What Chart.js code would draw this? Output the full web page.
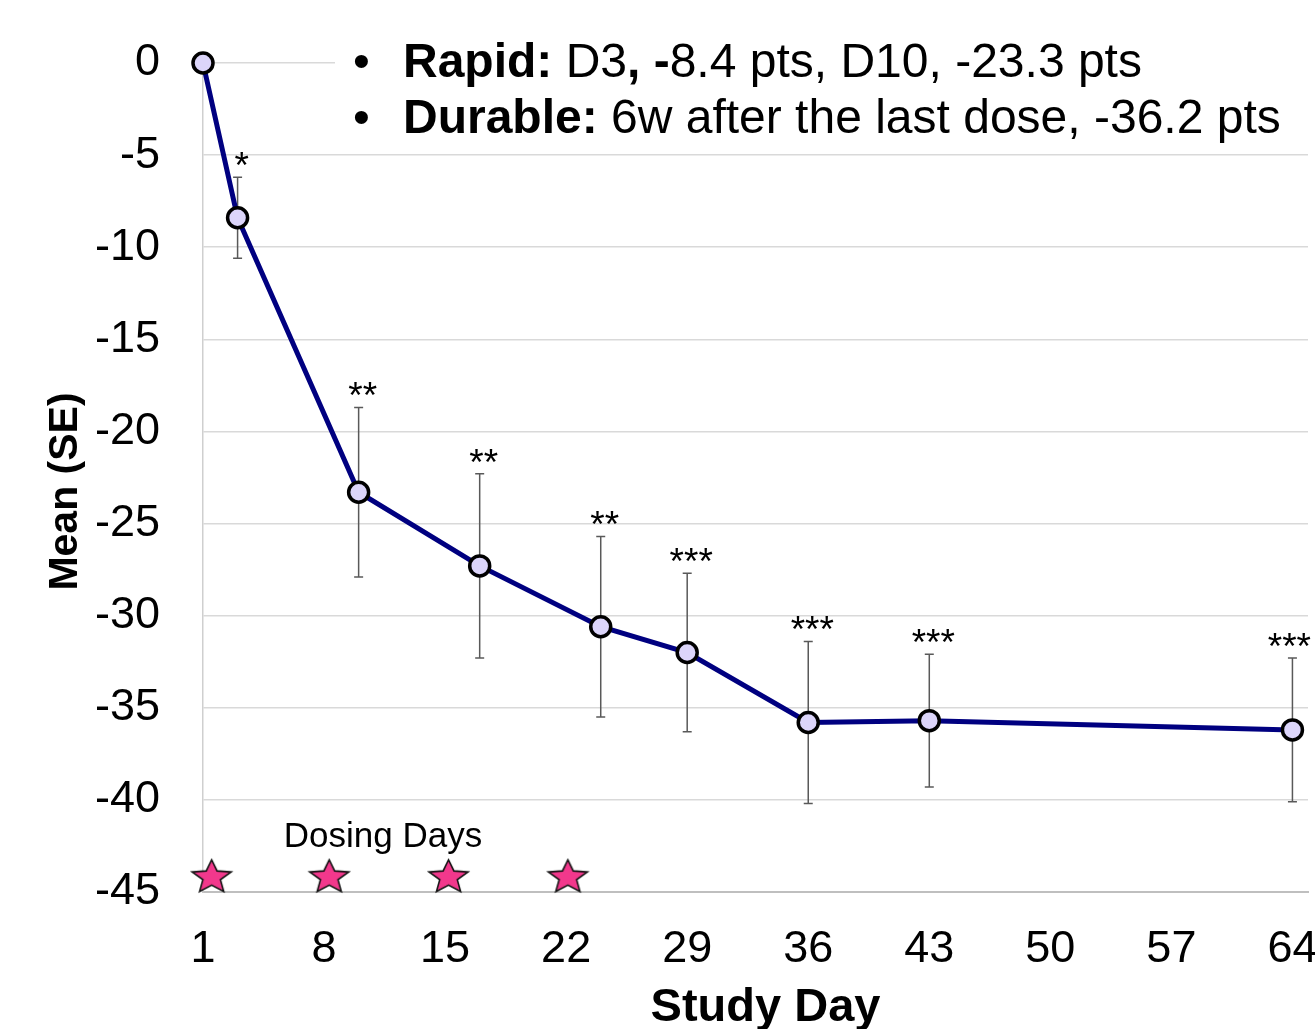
<!DOCTYPE html>
<html>
<head>
<meta charset="utf-8">
<script src="https://cdn.jsdelivr.net/npm/chart.js@4.4.0/dist/chart.umd.min.js"></script>
<style>
  html, body { margin: 0; padding: 0; background: #fff; }
  #wrap { width: 1315px; height: 1029px; }
</style>
</head>
<body>
<div id="wrap"><canvas id="chart" width="1315" height="1029"></canvas></div>
<script>
const studyDays = [1, 3, 10, 17, 24, 29, 36, 43, 64];
const meanChange = [0, -8.4, -23.3, -27.3, -30.6, -32.0, -35.8, -35.7, -36.2];
const seChange = [0, 2.2, 4.6, 5.0, 4.9, 4.3, 4.4, 3.6, 3.9];
const sigLabels = ['', '*', '**', '**', '**', '***', '***', '***', '***'];
const xTickDays = [1, 8, 15, 22, 29, 36, 43, 50, 57, 64];
const dosingDays = [1.5, 8.3, 15.2, 22.1];
const dosingLevel = -44.2;
const dosingText = 'Dosing Days';
const xTitle = 'Study Day';
const yTitle = 'Mean (SE)';
const bulletLines = [
  [['Rapid:', true], [' D3', false], [', -', true], ['8.4 pts, D10, -23.3 pts', false]],
  [['Durable:', true], [' 6w after the last dose, -36.2 pts', false]],
];

const FAMILY = "'Liberation Sans', Arial, sans-serif";

const makeStar = (rx, ry, innerRatio) => {
  const cv = document.createElement('canvas');
  const w = Math.ceil(rx * 2 + 4);
  const h = Math.ceil(ry * 2 + 4);
  cv.width = w;
  cv.height = h;
  const g = cv.getContext('2d');
  g.beginPath();
  for (let i = 0; i < 10; i++) {
    const k = i % 2 ? innerRatio : 1;
    const a = -Math.PI / 2 + (i * Math.PI) / 5;
    g.lineTo(w / 2 + rx * k * Math.cos(a), h / 2 + ry * k * Math.sin(a));
  }
  g.closePath();
  g.fillStyle = '#F2388C';
  g.fill();
  g.lineWidth = 1.6;
  g.strokeStyle = '#111';
  g.stroke();
  return cv;
};

const starImg = makeStar(20.5, 17.5, 0.45);

const noPad = (s) => {
  s.paddingTop = 0;
  s.paddingBottom = 0;
  s.paddingLeft = 0;
  s.paddingRight = 0;
};

// white box behind the bullet text + error bars under the line
const underlay = {
  id: 'underlay',
  beforeDatasetsDraw(chart) {
    const { ctx, scales: { y } } = chart;
    const meta = chart.getDatasetMeta(0);
    ctx.save();
    ctx.fillStyle = '#fff';
    ctx.fillRect(335, 24, 980, 124);
    ctx.strokeStyle = '#595959';
    ctx.lineWidth = 1.5;
    meta.data.forEach((pt, i) => {
      if (!seChange[i]) return;
      const top = y.getPixelForValue(meanChange[i] + seChange[i]);
      const bot = y.getPixelForValue(meanChange[i] - seChange[i]);
      ctx.beginPath();
      ctx.moveTo(pt.x, top);
      ctx.lineTo(pt.x, bot);
      ctx.moveTo(pt.x - 4.5, top);
      ctx.lineTo(pt.x + 4.5, top);
      ctx.moveTo(pt.x - 4.5, bot);
      ctx.lineTo(pt.x + 4.5, bot);
      ctx.stroke();
    });
    ctx.restore();
  },
};

const annotations = {
  id: 'annotations',
  afterDatasetsDraw(chart) {
    const { ctx, chartArea, scales: { y } } = chart;
    const meta = chart.getDatasetMeta(0);
    ctx.save();
    ctx.fillStyle = '#000';
    ctx.textAlign = 'center';
    ctx.textBaseline = 'alphabetic';
    ctx.font = `37px ${FAMILY}`;
    meta.data.forEach((pt, i) => {
      if (!sigLabels[i]) return;
      const top = y.getPixelForValue(meanChange[i] + seChange[i]);
      const half = ctx.measureText(sigLabels[i]).width / 2;
      const x = Math.min(pt.x + 4, chart.width - half - 4);
      ctx.fillText(sigLabels[i], x, top + 1);
    });

    ctx.font = `35px ${FAMILY}`;
    ctx.fillText(dosingText, 383, 847);

    // axis titles
    ctx.font = `bold 47px ${FAMILY}`;
    ctx.fillText(xTitle, (chartArea.left + chartArea.right) / 2 + 10, 1021);
    ctx.save();
    ctx.translate(77, (chartArea.top + chartArea.bottom) / 2 + 14);
    ctx.rotate(-Math.PI / 2);
    ctx.font = `bold 41px ${FAMILY}`;
    ctx.fillText(yTitle, 0, 0);
    ctx.restore();

    // bullet points
    ctx.textAlign = 'left';
    const baselines = [77, 133];
    bulletLines.forEach((runs, li) => {
      ctx.font = `48px ${FAMILY}`;
      ctx.fillText('\u2022', 353, baselines[li]);
      let cx = 403;
      runs.forEach(([txt, bold]) => {
        ctx.font = `${bold ? 'bold ' : ''}48px ${FAMILY}`;
        ctx.fillText(txt, cx, baselines[li]);
        cx += ctx.measureText(txt).width;
      });
    });
    ctx.restore();
  },
};

new Chart(document.getElementById('chart'), {
  type: 'line',
  data: {
    datasets: [
      {
        label: 'Mean',
        data: studyDays.map((d, i) => ({ x: d, y: meanChange[i] })),
        borderColor: '#000080',
        borderWidth: 5,
        backgroundColor: '#DCD5FA',
        pointBackgroundColor: '#DCD5FA',
        pointBorderColor: '#000',
        pointBorderWidth: 3.5,
        pointRadius: 10,
        tension: 0,
        clip: false,
        order: 0,
      },
      {
        label: 'Dosing',
        data: dosingDays.map((d) => ({ x: d, y: dosingLevel })),
        showLine: false,
        pointStyle: starImg,
        pointRadius: 18,
        clip: false,
        order: 1,
      },
    ],
  },
  options: {
    responsive: false,
    animation: false,
    layout: { autoPadding: false, padding: { top: 63, right: 7, left: 0, bottom: 0 } },
    plugins: {
      legend: { display: false },
      tooltip: { enabled: false },
    },
    scales: {
      x: {
        type: 'linear',
        min: 1,
        max: 64.9,
        afterBuildTicks: (s) => {
          s.ticks = xTickDays.map((v) => ({ value: v }));
        },
        afterFit: (s) => {
          s.height = 137;
          noPad(s);
        },
        grid: { display: false, drawTicks: false },
        border: { display: true, color: '#BFBFBF', width: 2 },
        ticks: {
          color: '#000',
          font: { size: 45, family: FAMILY },
          padding: 31,
          maxRotation: 0,
          autoSkip: false,
        },
      },
      y: {
        min: -45,
        max: 0,
        afterFit: (s) => {
          s.width = 203;
          noPad(s);
        },
        grid: { color: '#D9D9D9', lineWidth: 1.5, drawTicks: false },
        border: { display: true, color: '#CFCFCF', width: 1.5 },
        ticks: {
          stepSize: 5,
          color: '#000',
          font: { size: 45, family: FAMILY },
          padding: 43,
        },
      },
    },
  },
  plugins: [underlay, annotations],
});
</script>
</body>
</html>
